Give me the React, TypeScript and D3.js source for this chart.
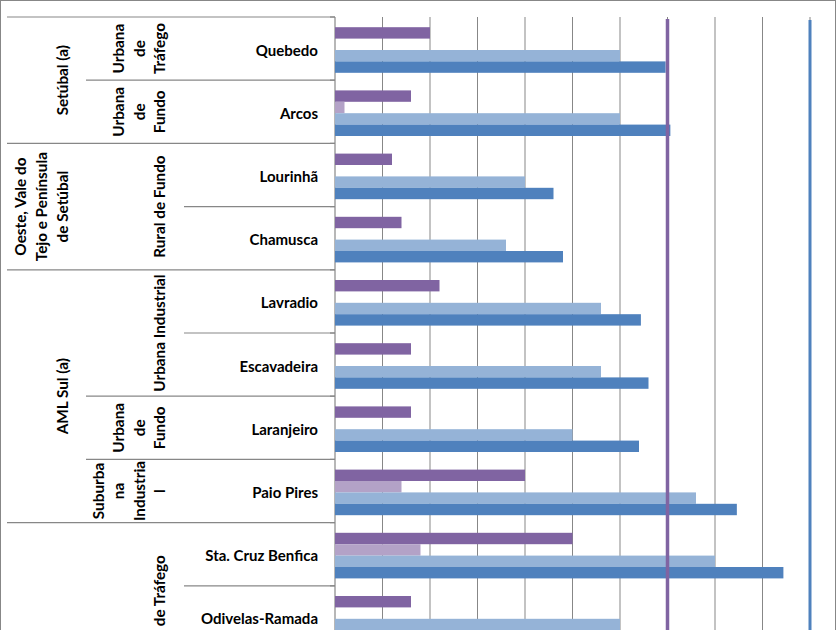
import React from "react";
import * as d3 from "d3";

const stations = [
  "Quebedo",
  "Arcos",
  "Lourinhã",
  "Chamusca",
  "Lavradio",
  "Escavadeira",
  "Laranjeiro",
  "Paio Pires",
  "Sta. Cruz Benfica",
  "Odivelas-Ramada",
];
const seriesNames = ["s1", "s2", "s3", "s4"];
const seriesColors = ["#8064A2", "#B3A2C7", "#95B3D7", "#4F81BD"];
const s1 = [10, 8, 6, 7, 11, 8, 8, 20, 25, 8];
const s2 = [0, 1, 0, 0, 0, 0, 0, 7, 9, 0];
const s3 = [30, 30, 20, 18, 28, 28, 25, 38, 40, 30];
const s4 = [34.8, 35.3, 23, 24, 32.2, 33, 32, 42.3, 47.2, 33];
const seriesValues = [s1, s2, s3, s4];
const gridTicks = [5, 10, 15, 20, 25, 30, 35, 40, 45, 50];
const refPurple = 35;
const refBlue = 50;

const level1 = [
  { lines: ["Setúbal (a)"], start: 0, span: 2 },
  { lines: ["Oeste, Vale do", "Tejo e Península", "de Setúbal"], start: 2, span: 2 },
  { lines: ["AML Sul (a)"], start: 4, span: 4 },
  { lines: [] as string[], start: 8, span: 3 },
];
const level2 = [
  { lines: ["Urbana", "de", "Tráfego"], start: 0, span: 1 },
  { lines: ["Urbana", "de", "Fundo"], start: 1, span: 1 },
  { lines: ["Rural de Fundo"], start: 2, span: 2 },
  { lines: ["Urbana Industrial"], start: 4, span: 2 },
  { lines: ["Urbana", "de", "Fundo"], start: 6, span: 1 },
  { lines: ["Suburba", "na", "Industria", "l"], start: 7, span: 1 },
  { lines: ["Urbana de Tráfego"], start: 8, span: 3 },
];

const W = 837;
const H = 630;
const TOP = 17;
const ROW_H = 63.2;
const GRAY = "#878787";
const FONT = "Lato, 'Open Sans', sans-serif";

export default function App() {
  const x = d3.scaleLinear().domain([0, 50]).range([335, 810]);
  const y = d3
    .scaleBand<string>()
    .domain(stations)
    .range([TOP, TOP + ROW_H * stations.length]);
  const ys = d3.scaleBand<string>().domain(seriesNames).range([10.2, 55.8]);
  const rowY = (i: number) => TOP + ROW_H * i;

  const boundaryX = (i: number) => {
    if (i === 0 || level1.some((g) => g.start === i)) return 7;
    if (level2.some((g) => g.start === i)) return 86;
    return 184;
  };

  const rotLabels = (
    groups: { lines: string[]; start: number; span: number }[],
    lastX: number,
    spacing: number,
    key: string
  ) =>
    groups.flatMap((g, gi) => {
      const cy = rowY(g.start) + (g.span * ROW_H) / 2;
      const n = g.lines.length;
      return g.lines.map((ln, j) => {
        const lx = lastX - (n - 1 - j) * spacing;
        return (
          <text
            key={`${key}-${gi}-${j}`}
            transform={`translate(${lx},${cy}) rotate(-90)`}
            textAnchor="middle"
            dominantBaseline="central"
            fontFamily={FONT}
            fontWeight="bold"
            fontSize={15.3}
            fill="#000"
          >
            {ln}
          </text>
        );
      });
    });

  return (
    <svg
      width={W}
      height={H}
      style={{ position: "fixed", left: 0, top: 0, background: "#fff" }}
    >
      <rect x={0} y={0} width={W} height={H} fill="#fff" />
      <rect x={0.5} y={0.5} width={835} height={H + 20} fill="none" stroke={GRAY} strokeWidth={1} />

      {/* gridlines */}
      {gridTicks.map((t) => (
        <line key={`g${t}`} x1={x(t)} x2={x(t)} y1={TOP} y2={H} stroke={GRAY} strokeWidth={1} />
      ))}

      {/* table boundaries */}
      {d3.range(stations.length).map((i) => (
        <line
          key={`b${i}`}
          x1={boundaryX(i)}
          x2={335}
          y1={rowY(i)}
          y2={rowY(i)}
          stroke={GRAY}
          strokeWidth={1.2}
        />
      ))}
      {/* category axis */}
      <line x1={335} x2={335} y1={TOP} y2={H} stroke={GRAY} strokeWidth={1.2} />
      {d3.range(stations.length).map((i) => (
        <line key={`t${i}`} x1={330} x2={335} y1={rowY(i)} y2={rowY(i)} stroke={GRAY} strokeWidth={1.2} />
      ))}

      {/* bars */}
      {stations.map((st, i) => (
        <g key={st} transform={`translate(0,${y(st)})`}>
          {seriesNames.map((sn, k) => {
            const v = seriesValues[k][i];
            if (!v) return null;
            return (
              <rect
                key={sn}
                x={x(0)}
                y={ys(sn)}
                width={x(v) - x(0)}
                height={ys.bandwidth()}
                fill={seriesColors[k]}
              />
            );
          })}
        </g>
      ))}

      {/* reference lines */}
      <line x1={x(refPurple)} x2={x(refPurple)} y1={19} y2={H} stroke="#8064A2" strokeWidth={3.5} />
      <line x1={x(refBlue)} x2={x(refBlue)} y1={20} y2={H} stroke="#4F81BD" strokeWidth={3} />

      {/* station labels */}
      {stations.map((st) => (
        <text
          key={`l-${st}`}
          x={318}
          y={(y(st) as number) + ROW_H / 2 + 1}
          textAnchor="end"
          dominantBaseline="central"
          fontFamily={FONT}
          fontWeight="bold"
          fontSize={15}
          fill="#000"
        >
          {st}
        </text>
      ))}

      {rotLabels(level1, 62, 21, "l1")}
      {rotLabels(level2, 159, 20.5, "l2")}
    </svg>
  );
}
